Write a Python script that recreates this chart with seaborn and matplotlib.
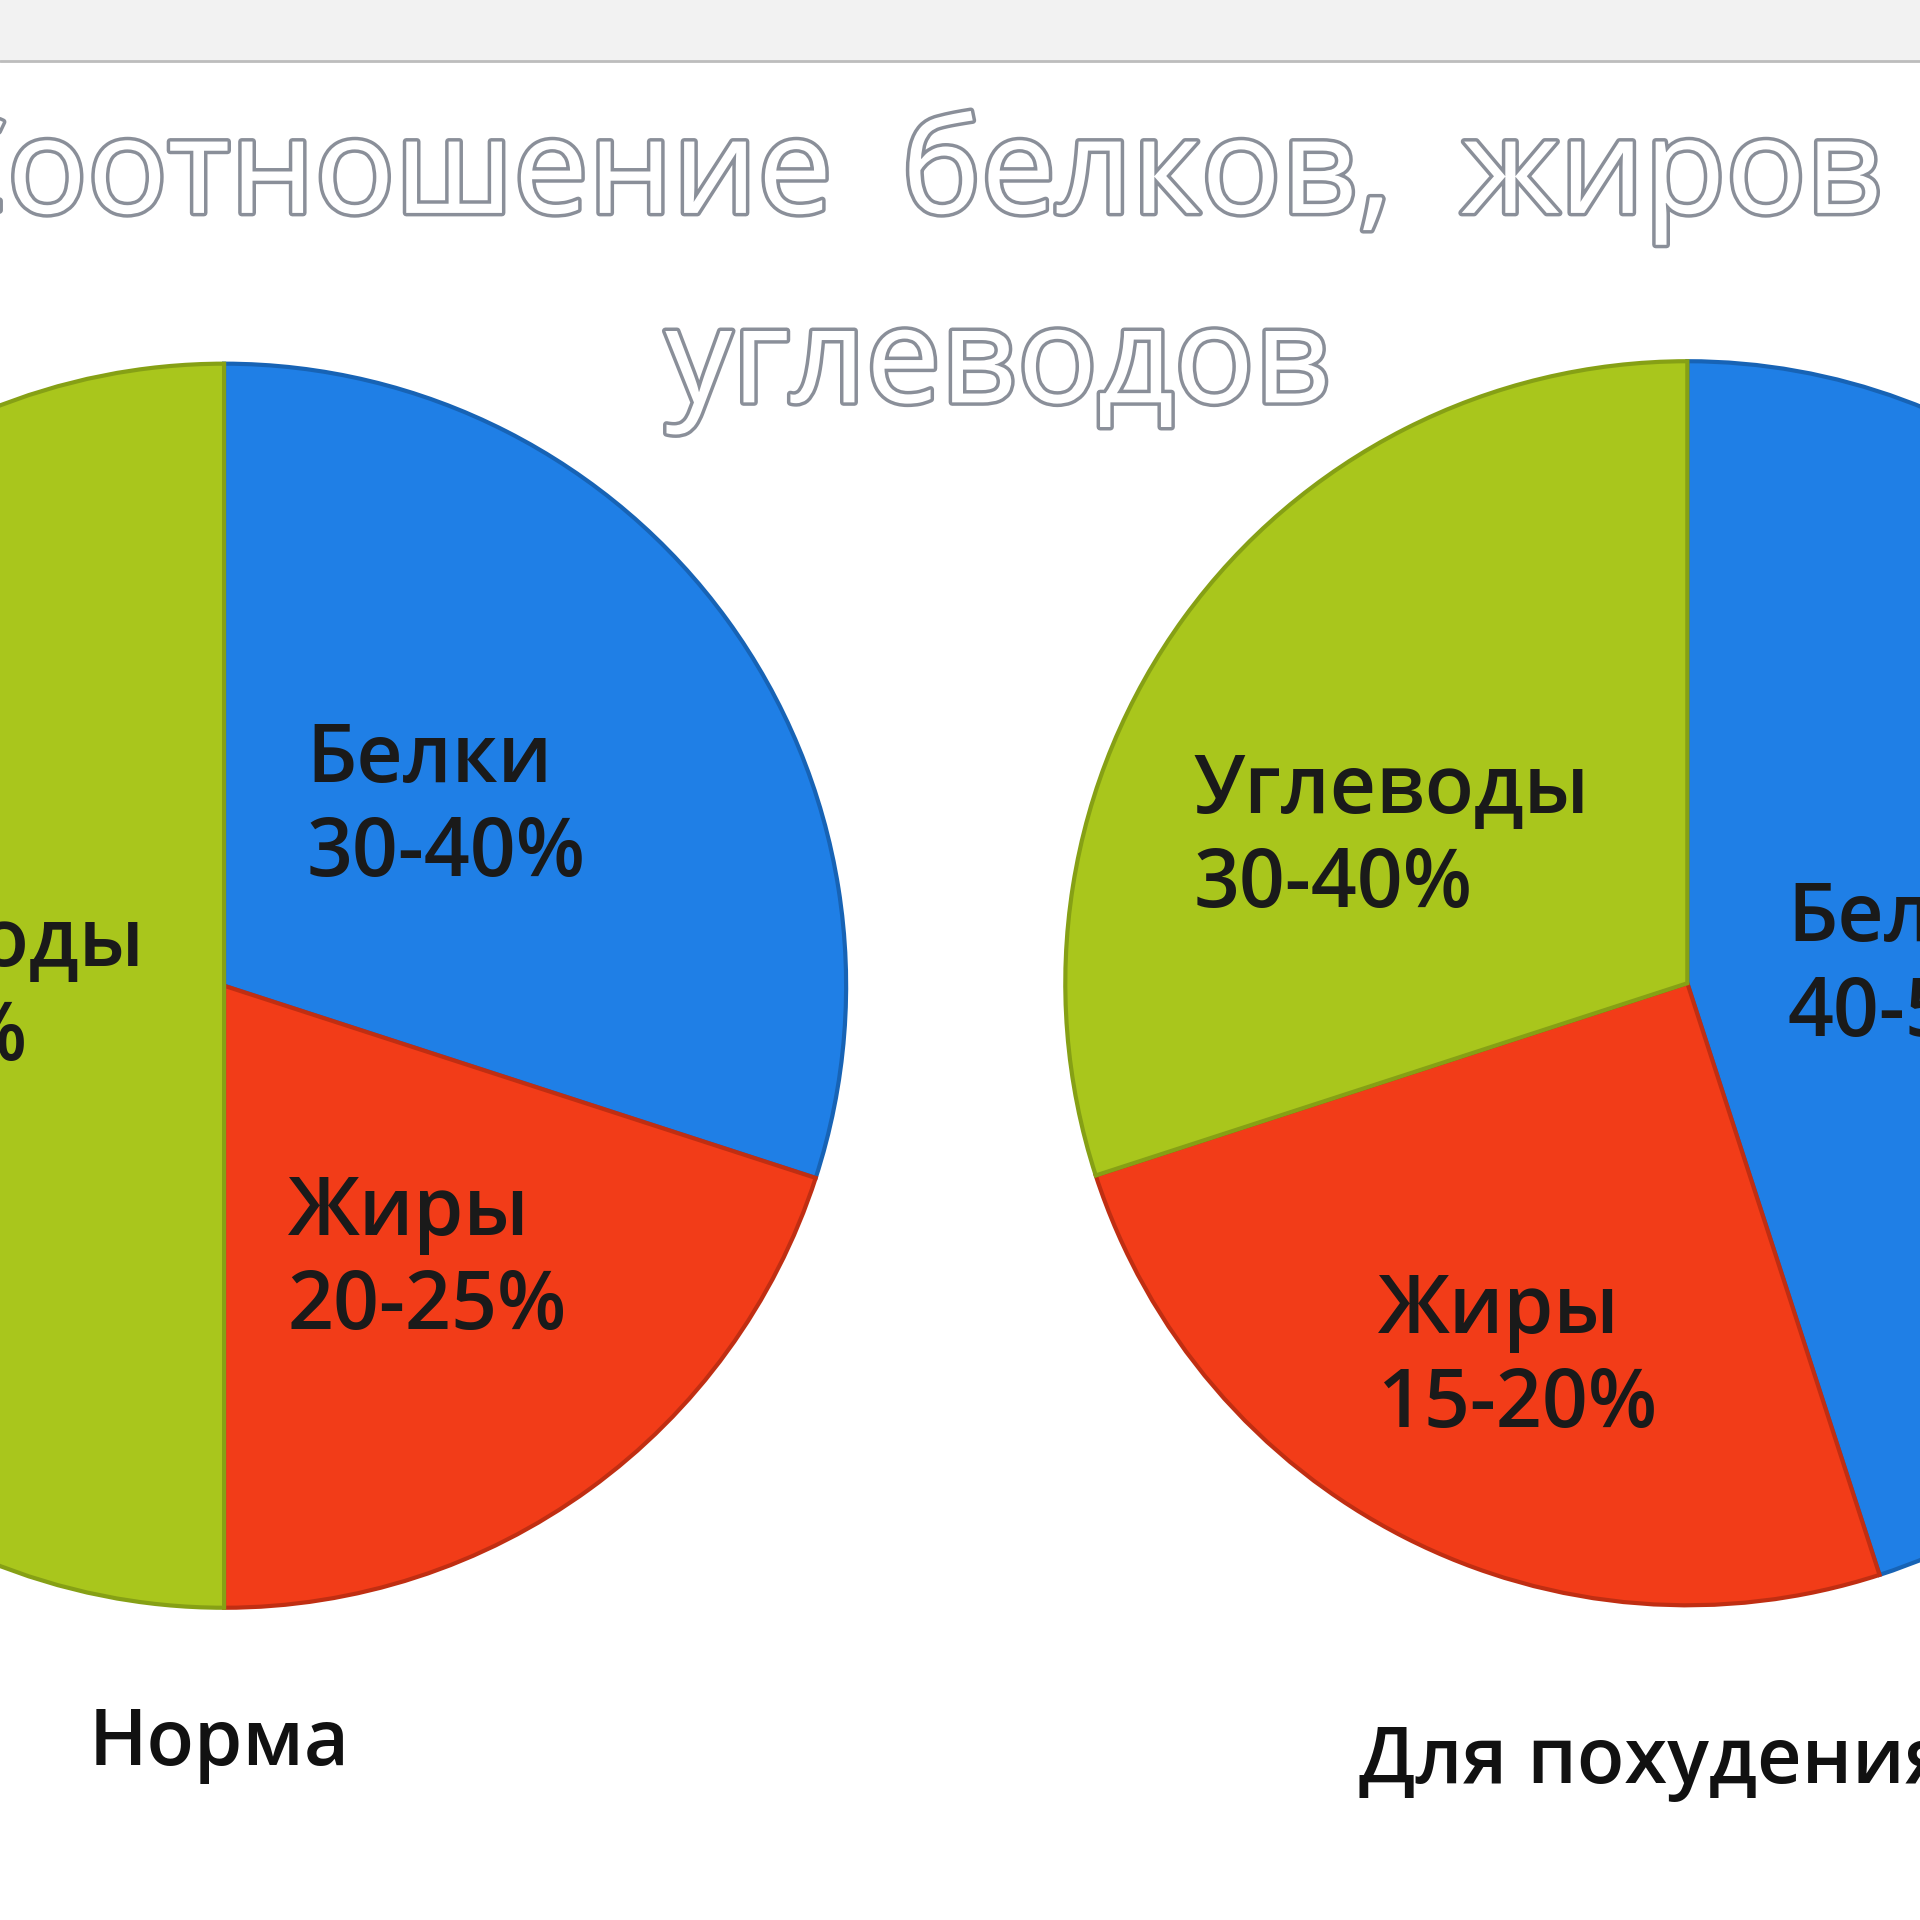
import matplotlib
matplotlib.use("Agg")
import matplotlib.pyplot as plt
import matplotlib.patheffects as pe
import seaborn as sns

sns.set_theme(style="white")
plt.rcParams['font.family'] = ['Open Sans', 'DejaVu Sans']

categories_norm = ["Белки", "Жиры", "Углеводы"]
values_norm = [30, 20, 50]
labels_norm = ["Белки\n30-40%", "Жиры\n20-25%", "Углеводы\n40-50%"]
categories_loss = ["Белки", "Жиры", "Углеводы"]
values_loss = [45, 25, 30]
labels_loss = ["Белки\n40-50%", "Жиры\n15-20%", "Углеводы\n30-40%"]
colors = ["#1f7fe6", "#f23c18", "#a9c61c"]
edge = ["#1763b5", "#c02e12", "#86a015"]

W = 1568
fig = plt.figure(figsize=(19.2, 19.2), dpi=100)
ax = fig.add_axes([0, 0, 1, 1])
ax.set_xlim(0, W); ax.set_ylim(0, W); ax.axis("off")

ax.axhspan(W - 50, W, color="#f2f2f2", zorder=0)
ax.axhline(W - 50, color="#bdbdbd", lw=2)

def draw(vals, labs, center, lpos):
    wedges, _ = ax.pie(vals, colors=colors, startangle=90, counterclock=False,
                       center=center, radius=508, frame=True,
                       wedgeprops=dict(linewidth=3))
    for w, e in zip(wedges, edge):
        w.set_edgecolor(e)
    for t, (x, y) in zip(labs, lpos):
        ax.text(x, y, t, fontsize=58, fontweight="semibold", color="#1a1a1a",
                ha="left", va="center", linespacing=1.2)

draw(values_norm, labels_norm, (183, 763),
     [(250, W - 660), (235, W - 1030), (-205, W - 810)])
draw(values_loss, labels_loss, (1378, 765),
     [(1460, W - 790), (1125, W - 1110), (975, W - 685)])
ax.set_xlim(0, W); ax.set_ylim(0, W)
ax.set_aspect("auto")

stroke = [pe.withStroke(linewidth=5, foreground="#8a8f99")]
ax.text(800, W - 145, "Соотношение  белков,  жиров  и", fontsize=96, color="white",
        ha="center", va="center", path_effects=stroke)
ax.text(815, W - 300, "углеводов", fontsize=96, color="white",
        ha="center", va="center", path_effects=stroke)

ax.text(72, W - 1425, "Норма", fontsize=56, fontweight="semibold", color="#111111", ha="left", va="center")
ax.text(1110, W - 1440, "Для похудения", fontsize=56, fontweight="semibold", color="#111111", ha="left", va="center")

fig.savefig("out.png", dpi=100)
